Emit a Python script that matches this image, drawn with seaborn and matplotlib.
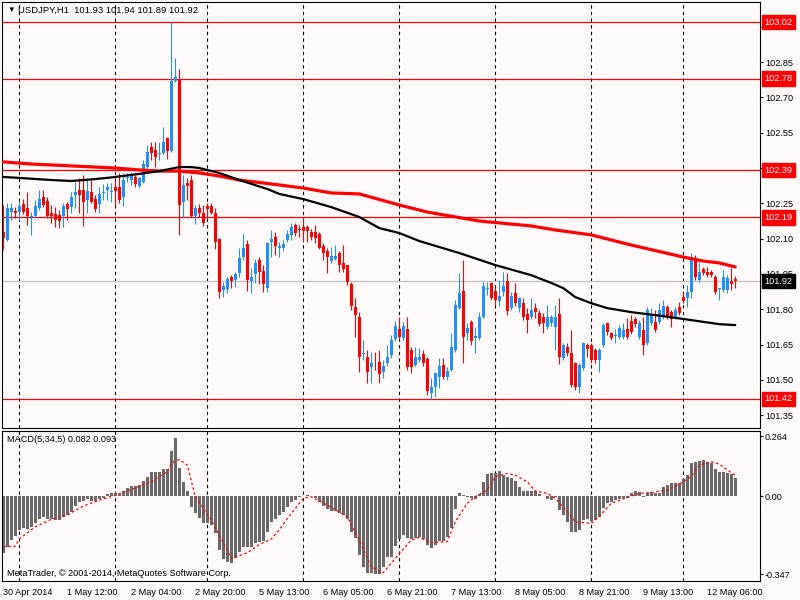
import matplotlib
matplotlib.use('Agg')
import matplotlib.pyplot as plt
import matplotlib.transforms as mtransforms
import seaborn as sns
import numpy as np

# USDJPY H1 candles, one bar per hour from 30 Apr 2014 20:00
opens = [102.129, 102.094, 102.213, 102.217, 102.213, 102.247, 102.230, 102.192, 102.196, 102.230,
         102.277, 102.260, 102.209, 102.204, 102.200, 102.196, 102.247, 102.234, 102.285, 102.306,
         102.306, 102.264, 102.298, 102.268, 102.247, 102.294, 102.306, 102.298, 102.319, 102.319,
         102.277, 102.357, 102.349, 102.361, 102.323, 102.340, 102.404, 102.489, 102.476, 102.459,
         102.464, 102.527, 102.472, 102.769, 102.778, 102.256, 102.336, 102.349, 102.196, 102.230,
         102.209, 102.238, 102.238, 102.209, 102.098, 101.882, 101.886, 101.937, 101.924, 101.954,
         102.022, 102.077, 101.920, 101.950, 102.009, 101.963, 101.890, 102.086, 102.107, 102.060,
         102.060, 102.094, 102.116, 102.158, 102.137, 102.149, 102.149, 102.128, 102.128, 102.120,
         102.069, 102.048, 102.005, 102.013, 102.039, 101.996, 101.988, 101.907, 101.810, 101.767,
         101.610, 101.597, 101.554, 101.571, 101.576, 101.534, 101.571, 101.606, 101.674, 101.716,
         101.678, 101.716, 101.627, 101.563, 101.584, 101.610, 101.589, 101.444, 101.470, 101.512,
         101.563, 101.512, 101.542, 101.627, 101.805, 101.878, 101.699, 101.746, 101.678, 101.678,
         101.767, 101.886, 101.912, 101.878, 101.835, 101.873, 101.920, 101.805, 101.869, 101.805,
         101.826, 101.780, 101.767, 101.805, 101.784, 101.767, 101.725, 101.742, 101.725, 101.780,
         101.593, 101.640, 101.614, 101.571, 101.470, 101.550, 101.648, 101.648, 101.627, 101.584,
         101.648, 101.742, 101.699, 101.686, 101.682, 101.682, 101.716, 101.750, 101.759, 101.682,
         101.712, 101.657, 101.742, 101.746, 101.746, 101.767, 101.810, 101.788, 101.767, 101.810,
         101.852, 101.848, 101.873, 102.013, 101.924, 101.971, 101.959, 101.959, 101.937, 101.886,
         101.882, 101.882, 101.920, 101.930]
highs = [102.243, 102.251, 102.251, 102.234, 102.260, 102.268, 102.298, 102.213, 102.264, 102.306,
         102.306, 102.277, 102.243, 102.234, 102.221, 102.251, 102.256, 102.298, 102.340, 102.357,
         102.370, 102.349, 102.349, 102.285, 102.319, 102.332, 102.336, 102.336, 102.349, 102.378,
         102.378, 102.378, 102.383, 102.370, 102.361, 102.434, 102.498, 102.511, 102.511, 102.511,
         102.574, 102.532, 103.020, 102.867, 102.820, 102.370, 102.357, 102.370, 102.243, 102.247,
         102.243, 102.251, 102.251, 102.230, 102.103, 101.916, 101.937, 101.946, 101.959, 102.060,
         102.120, 102.094, 101.975, 102.013, 102.022, 101.988, 102.086, 102.137, 102.128, 102.086,
         102.094, 102.137, 102.166, 102.166, 102.158, 102.187, 102.158, 102.141, 102.158, 102.128,
         102.081, 102.060, 102.065, 102.073, 102.048, 102.073, 101.990, 101.916, 101.848, 101.788,
         101.669, 101.627, 101.618, 101.618, 101.627, 101.584, 101.648, 101.691, 101.750, 101.767,
         101.746, 101.767, 101.640, 101.640, 101.635, 101.627, 101.597, 101.508, 101.534, 101.593,
         101.593, 101.554, 101.699, 101.839, 101.954, 102.009, 101.742, 101.754, 101.725, 101.788,
         101.916, 101.916, 101.916, 101.895, 101.924, 101.959, 101.954, 101.873, 101.912, 101.852,
         101.848, 101.805, 101.848, 101.826, 101.797, 101.784, 101.818, 101.776, 101.818, 101.848,
         101.657, 101.657, 101.712, 101.576, 101.571, 101.661, 101.657, 101.657, 101.635, 101.635,
         101.742, 101.746, 101.703, 101.716, 101.733, 101.742, 101.763, 101.776, 101.767, 101.754,
         101.767, 101.810, 101.805, 101.797, 101.826, 101.839, 101.818, 101.797, 101.810, 101.831,
         101.873, 101.903, 102.039, 102.031, 102.001, 101.980, 101.980, 101.967, 101.946, 101.890,
         101.967, 101.946, 101.975, 101.940]
lows = [102.052, 102.090, 102.179, 102.187, 102.179, 102.204, 102.158, 102.116, 102.187, 102.221,
        102.234, 102.187, 102.166, 102.149, 102.145, 102.149, 102.179, 102.209, 102.230, 102.209,
        102.154, 102.209, 102.251, 102.213, 102.209, 102.264, 102.264, 102.256, 102.243, 102.251,
        102.238, 102.340, 102.328, 102.319, 102.315, 102.336, 102.400, 102.434, 102.404, 102.434,
        102.459, 102.438, 102.468, 102.765, 102.116, 102.192, 102.264, 102.192, 102.162, 102.192,
        102.154, 102.187, 102.204, 102.056, 101.848, 101.852, 101.869, 101.890, 101.895, 101.937,
        102.009, 101.878, 101.869, 101.912, 101.907, 101.873, 101.873, 102.022, 102.031, 102.022,
        102.048, 102.086, 102.094, 102.111, 102.107, 102.086, 102.086, 102.094, 102.081, 102.056,
        102.009, 101.954, 101.996, 102.009, 101.959, 101.959, 101.903, 101.797, 101.682, 101.533,
        101.584, 101.486, 101.486, 101.542, 101.486, 101.508, 101.559, 101.593, 101.665, 101.674,
        101.669, 101.542, 101.529, 101.559, 101.576, 101.559, 101.436, 101.418, 101.427, 101.465,
        101.504, 101.499, 101.538, 101.618, 101.801, 101.571, 101.669, 101.648, 101.614, 101.669,
        101.763, 101.861, 101.839, 101.818, 101.814, 101.856, 101.776, 101.797, 101.814, 101.788,
        101.754, 101.699, 101.759, 101.763, 101.729, 101.699, 101.716, 101.729, 101.627, 101.567,
        101.584, 101.601, 101.470, 101.457, 101.444, 101.542, 101.597, 101.571, 101.571, 101.534,
        101.640, 101.691, 101.669, 101.657, 101.674, 101.674, 101.674, 101.695, 101.725, 101.674,
        101.606, 101.648, 101.733, 101.703, 101.737, 101.759, 101.759, 101.725, 101.759, 101.776,
        101.826, 101.810, 101.848, 101.924, 101.916, 101.946, 101.937, 101.937, 101.865, 101.839,
        101.873, 101.869, 101.882, 101.890]
closes = [102.103, 102.230, 102.230, 102.209, 102.238, 102.213, 102.196, 102.193, 102.238, 102.268,
          102.243, 102.196, 102.196, 102.179, 102.175, 102.238, 102.226, 102.277, 102.298, 102.285,
          102.256, 102.302, 102.256, 102.226, 102.289, 102.298, 102.319, 102.299, 102.302, 102.264,
          102.349, 102.361, 102.374, 102.332, 102.357, 102.417, 102.468, 102.464, 102.447, 102.460,
          102.511, 102.472, 102.769, 102.786, 102.243, 102.328, 102.323, 102.196, 102.230, 102.209,
          102.166, 102.226, 102.209, 102.086, 101.873, 101.899, 101.929, 101.920, 101.950, 102.018,
          102.060, 101.924, 101.937, 101.996, 101.959, 101.907, 102.081, 102.098, 102.069, 102.069,
          102.077, 102.120, 102.149, 102.124, 102.136, 102.132, 102.132, 102.107, 102.103, 102.060,
          102.039, 102.022, 102.026, 102.026, 101.988, 101.971, 101.916, 101.814, 101.776, 101.597,
          101.611, 101.533, 101.571, 101.570, 101.525, 101.559, 101.597, 101.669, 101.729, 101.682,
          101.729, 101.554, 101.554, 101.597, 101.597, 101.571, 101.453, 101.470, 101.529, 101.559,
          101.512, 101.538, 101.640, 101.818, 101.869, 101.682, 101.720, 101.665, 101.686, 101.767,
          101.899, 101.887, 101.848, 101.839, 101.856, 101.899, 101.793, 101.856, 101.826, 101.848,
          101.767, 101.754, 101.797, 101.788, 101.737, 101.742, 101.767, 101.767, 101.767, 101.597,
          101.648, 101.614, 101.478, 101.470, 101.563, 101.657, 101.631, 101.584, 101.584, 101.627,
          101.733, 101.703, 101.678, 101.687, 101.720, 101.712, 101.682, 101.703, 101.737, 101.742,
          101.648, 101.797, 101.776, 101.712, 101.797, 101.814, 101.767, 101.759, 101.797, 101.784,
          101.835, 101.873, 102.013, 101.937, 101.959, 101.954, 101.946, 101.946, 101.873, 101.887,
          101.937, 101.933, 101.907, 101.920]

# moving averages, read at a few bars
red_ma_bars = [0, 7, 17, 28, 34, 39, 44, 49, 54, 59, 69, 75, 82, 89, 99, 106, 119, 132, 138, 147,
               157, 170, 175, 179, 183]
red_ma = [102.426, 102.417, 102.409, 102.400, 102.392, 102.387, 102.387, 102.379, 102.366, 102.349,
          102.328, 102.315, 102.294, 102.290, 102.243, 102.213, 102.175, 102.154, 102.137, 102.116,
          102.073, 102.022, 102.005, 101.997, 101.980]
black_ma_bars = [0, 4, 12, 17, 23, 28, 34, 39, 44, 47, 49, 54, 59, 66, 69, 75, 82, 89, 94, 99,
                 104, 114, 123, 132, 137, 140, 143, 147, 151, 157, 165, 170, 179, 183]
black_ma = [102.362, 102.358, 102.349, 102.345, 102.353, 102.362, 102.375, 102.387, 102.404, 102.404,
            102.400, 102.379, 102.349, 102.311, 102.290, 102.268, 102.234, 102.192, 102.145, 102.124,
            102.090, 102.039, 101.988, 101.945, 101.912, 101.890, 101.852, 101.826, 101.805, 101.788,
            101.771, 101.759, 101.737, 101.733]

# MACD(5,34,5)
macd_hist = [-0.254, -0.224, -0.195, -0.177, -0.150, -0.143, -0.147, -0.136, -0.121, -0.102,
             -0.094, -0.102, -0.100, -0.106, -0.106, -0.094, -0.084, -0.069, -0.044, -0.025,
             -0.022, -0.015, -0.021, -0.022, -0.015, -0.010, 0.009, 0.012, 0.012, 0.009,
             0.022, 0.034, 0.044, 0.044, 0.047, 0.066, 0.086, 0.106, 0.106, 0.106,
             0.118, 0.118, 0.199, 0.258, 0.125, 0.063, 0.024, -0.050, -0.074, -0.099,
             -0.121, -0.121, -0.128, -0.165, -0.239, -0.280, -0.291, -0.295, -0.276, -0.246,
             -0.224, -0.224, -0.224, -0.209, -0.202, -0.198, -0.158, -0.114, -0.102, -0.084,
             -0.069, -0.047, -0.025, -0.018, -0.006, 0.002, 0.004, 0.001, -0.010, -0.025,
             -0.044, -0.059, -0.065, -0.065, -0.077, -0.084, -0.103, -0.158, -0.187, -0.261,
             -0.313, -0.342, -0.342, -0.345, -0.347, -0.313, -0.268, -0.268, -0.221, -0.190,
             -0.173, -0.187, -0.192, -0.187, -0.183, -0.192, -0.217, -0.232, -0.217, -0.198,
             -0.198, -0.180, -0.143, -0.059, 0.012, 0.004, -0.003, -0.010, -0.015, 0.009,
             0.063, 0.096, 0.103, 0.103, 0.111, 0.093, 0.086, 0.081, 0.066, 0.041,
             0.024, 0.022, 0.022, 0.022, 0.009, 0.001, -0.015, -0.018, -0.003, -0.062,
             -0.084, -0.114, -0.158, -0.158, -0.150, -0.106, -0.103, -0.109, -0.106, -0.091,
             -0.055, -0.029, -0.025, -0.018, -0.015, -0.010, -0.007, 0.012, 0.024, 0.019,
             -0.006, 0.015, 0.019, 0.015, 0.012, 0.041, 0.049, 0.056, 0.059, 0.059,
             0.074, 0.093, 0.145, 0.152, 0.156, 0.159, 0.152, 0.145, 0.122, 0.105,
             0.105, 0.100, 0.096, 0.082]
signal_bars = [0, 3, 4, 8, 12, 16, 20, 24, 28, 32, 37, 41, 42, 44, 46, 48, 52, 54, 57, 61,
               64, 67, 69, 71, 73, 75, 77, 81, 86, 89, 92, 95, 99, 102, 104, 107, 111, 113, 116, 118,
               121, 123, 126, 128, 131, 133, 136, 138, 141, 143, 147, 149, 152, 156, 159, 162, 166, 169, 172, 174,
               177, 179, 182, 183]
signal = [-0.224, -0.222, -0.190, -0.136, -0.103, -0.084, -0.044, -0.018, 0.004, 0.029,
          0.063, 0.108, 0.145, 0.162, 0.137, -0.003, -0.106, -0.173, -0.276, -0.251,
          -0.215, -0.190, -0.150, -0.100, -0.055, -0.010, -0.003, -0.040, -0.091, -0.195,
          -0.313, -0.339, -0.255, -0.195, -0.183, -0.206, -0.202, -0.114, -0.032, -0.003,
          0.027, 0.086, 0.100, 0.093, 0.063, 0.022, 0.012, -0.010, -0.069, -0.114,
          -0.121, -0.091, -0.032, -0.006, 0.012, 0.015, 0.027, 0.053, 0.086, 0.137,
          0.152, 0.142, 0.103, 0.093]

level_lines = [103.02, 102.78, 102.39, 102.19, 101.42]
bid_price = 101.92
price_ticks = [103.00, 102.85, 102.70, 102.55, 102.40, 102.25, 102.10, 101.95, 101.80, 101.65, 101.50, 101.35]
macd_ticks = [0.264, 0.00, -0.347]
macd_tick_labels = ['0.264', '0.00', '-0.347']
date_labels = ['30 Apr 2014', '1 May 12:00', '2 May 04:00', '2 May 20:00', '5 May 13:00', '6 May 05:00',
               '6 May 21:00', '7 May 13:00', '8 May 05:00', '8 May 21:00', '9 May 13:00', '12 May 06:00']
day_starts = [4, 28, 51, 75, 99, 123, 147, 170]  # bar of 00:00 each day

sns.set_style('white')
plt.rcParams['font.family'] = ['Liberation Sans', 'DejaVu Sans']
bg = '#fffafa'
fs = 6.6

fig = plt.figure(figsize=(8, 6), dpi=100, facecolor=bg)
ax = fig.add_axes([0.0025, 1 - 428 / 600, 0.9475, 426 / 600])
ax2 = fig.add_axes([0.0025, 1 - 581 / 600, 0.9475, 150 / 600])

o = np.array(opens)
h = np.array(highs)
l = np.array(lows)
c = np.array(closes)
x = np.arange(len(c))
up = c >= o
cols = np.where(up, '#1e90ff', '#ff0000')

for a in (ax, ax2):
    a.set_facecolor(bg)
    for s in a.spines.values():
        s.set_color('black')
        s.set_linewidth(0.8)
    a.set_xlim(-0.33, 189.2)
    for d in day_starts:
        a.axvline(d, color='black', lw=0.8, ls=(0, (3, 3)), zorder=0.5)

# horizontal levels
for v in level_lines:
    ax.axhline(v, color='#ff0000', lw=0.9, zorder=1)
ax.axhline(bid_price, color='#c0c0c0', lw=0.9, zorder=1)

# candles
ax.vlines(x, l, h, colors=cols, linewidth=0.8, zorder=2)
ax.bar(x, np.maximum(np.abs(c - o), 0.004), bottom=np.minimum(o, c), width=0.75,
       color=cols, linewidth=0, zorder=2)

sns.lineplot(x=red_ma_bars, y=red_ma, ax=ax, color='#ff0000', linewidth=2.3, zorder=3)
sns.lineplot(x=black_ma_bars, y=black_ma, ax=ax, color='black', linewidth=1.6, zorder=3)

ax.set_ylim(101.296, 103.105)
ax.set_xticks([])
ax.set_xlabel('')
ax.set_ylabel('')
ax.yaxis.tick_right()
ax.set_yticks(price_ticks)
ax.set_yticklabels([f'{v:.2f}' for v in price_ticks])
ax.tick_params(axis='y', length=2, width=0.8, pad=1.5, labelsize=fs, colors='black', direction='out')

trans = mtransforms.blended_transform_factory(ax.transAxes, ax.transData)
for v in level_lines:
    ax.text(1.0058, v, f'{v:.2f}', transform=trans, ha='left', va='center', color='white',
            fontsize=fs, zorder=5, bbox=dict(boxstyle='square,pad=0.28', fc='#ff0000', ec='#ff0000'))
ax.text(1.0058, bid_price, f'{bid_price:.2f}', transform=trans, ha='left', va='center', color='white',
        fontsize=fs, zorder=5, bbox=dict(boxstyle='square,pad=0.28', fc='black', ec='black'))

# MACD panel
ax2.bar(x, macd_hist, width=0.75, color='#696969', linewidth=0, zorder=2)
sns.lineplot(x=signal_bars, y=signal, ax=ax2, color='#ff0000', linewidth=0.9,
             linestyle=(0, (2, 2)), zorder=3)
ax2.set_ylim(-0.376, 0.288)
ax2.set_xlabel('')
ax2.set_ylabel('')
ax2.yaxis.tick_right()
ax2.set_yticks(macd_ticks)
ax2.set_yticklabels(macd_tick_labels)
ax2.set_xticks(np.arange(0, len(c), 16)[:len(date_labels)])
ax2.set_xticklabels(date_labels)
for t in ax2.get_xticklabels():
    t.set_ha('left')
ax2.tick_params(axis='y', length=2, width=0.8, pad=1.5, labelsize=fs, colors='black', direction='out')
ax2.tick_params(axis='x', length=3, width=0.8, pad=2, labelsize=fs, colors='black', direction='out')

fig.text(7 / 800, 1 - 10 / 600, '\u25bc', fontsize=5.5, ha='left', va='center', color='black')
fig.text(18 / 800, 1 - 10 / 600, 'USDJPY,H1  101.93 101.94 101.89 101.92', fontsize=fs + 0.2,
         ha='left', va='center', color='black')
fig.text(7 / 800, 1 - 440 / 600, 'MACD(5,34,5) 0.082 0.093', fontsize=fs, ha='left', va='center',
         color='black')
fig.text(7 / 800, 1 - 574 / 600, 'MetaTrader, \u00a9 2001-2014, MetaQuotes Software Corp.', fontsize=fs,
         ha='left', va='center', color='black')

fig.savefig('out.png', dpi=100, facecolor=bg)
